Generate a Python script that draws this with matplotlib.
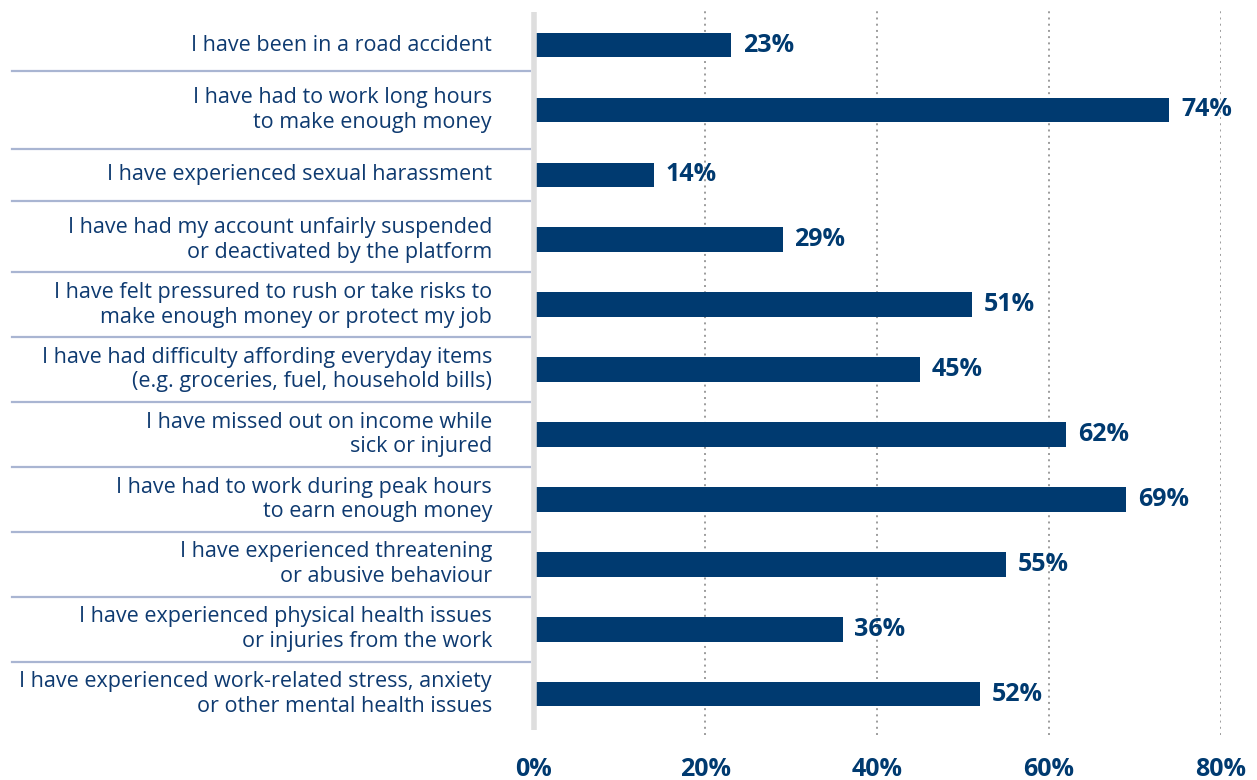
import matplotlib

matplotlib.use("Agg")
import matplotlib.pyplot as plt
from matplotlib.transforms import blended_transform_factory

plt.rcParams["font.family"] = ["Open Sans", "DejaVu Sans"]

statements = [
    "I have been in a road accident",
    "I have had to work long hours\nto make enough money",
    "I have experienced sexual harassment",
    "I have had my account unfairly suspended\nor deactivated by the platform",
    "I have felt pressured to rush or take risks to\nmake enough money or protect my job",
    "I have had difficulty affording everyday items\n(e.g. groceries, fuel, household bills)",
    "I have missed out on income while\nsick or injured",
    "I have had to work during peak hours\nto earn enough money",
    "I have experienced threatening\nor abusive behaviour",
    "I have experienced physical health issues\nor injuries from the work",
    "I have experienced work-related stress, anxiety\nor other mental health issues",
]
shares = [23, 74, 14, 29, 51, 45, 62, 69, 55, 36, 52]
x_ticks = [0, 20, 40, 60, 80]

NAVY = "#003a70"
TEXT = "#0e3a70"

fig = plt.figure(figsize=(12.57, 7.8), dpi=100)
ax = fig.add_axes([533.5 / 1257, 45 / 780, 687.5 / 1257, 725 / 780])

rows = list(range(len(shares)))
ax.barh(rows, shares, height=0.38, color=NAVY, zorder=2)
ax.set_xlim(0, 80)
ax.set_ylim(10.63, -0.54)

for spine in ax.spines.values():
    spine.set_visible(False)

ax.set_yticks([])
ax.set_xticks(x_ticks)
ax.set_xticklabels([f"{t}%" for t in x_ticks], fontsize=18, fontweight="bold",
                   color=NAVY)
ax.tick_params(axis="x", length=0, pad=16)

# dotted verticals at each tick, solid grey baseline at zero
for t in x_ticks[1:]:
    ax.axvline(t, color="#9c9c9c", linestyle=(0, (1, 2.2)), linewidth=1.4, zorder=1)
ax.plot([0, 0], [-0.51, 10.55], color="#dedede", linewidth=4, zorder=3,
        solid_capstyle="butt", clip_on=False)

# value labels at bar ends
for r, v in zip(rows, shares):
    ax.text(v + 1.35, r, f"{v}%", va="center", ha="left", fontsize=18,
            fontweight="bold", color=NAVY)

# statement labels, right-aligned against the axis
trans = blended_transform_factory(ax.transAxes, ax.transData)
for r, s in zip(rows, statements):
    ax.text(-0.0604, r, s, transform=trans, ha="right", va="center",
            fontsize=15.5, color=TEXT, linespacing=1.23)

# thin separators placed in the gaps between label blocks
line_h = 0.2
n_lines = [s.count("\n") + 1 for s in statements]
for i in range(len(rows) - 1):
    y = (2 * i + 1) / 2 + (n_lines[i] - n_lines[i + 1]) * line_h / 2
    ax.plot([-0.758, -0.005], [y, y], transform=trans, color="#a9b5d2",
            linewidth=1.6, clip_on=False, zorder=1)

fig.savefig("out.png", dpi=100, facecolor="white")
